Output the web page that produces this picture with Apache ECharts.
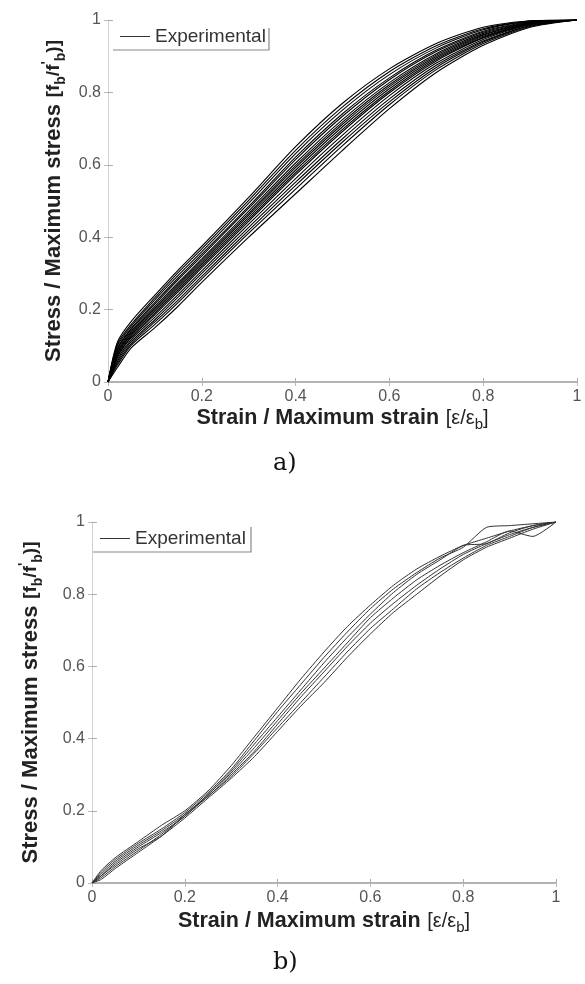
<!DOCTYPE html>
<html>
<head>
<meta charset="utf-8">
<script src="https://cdn.jsdelivr.net/npm/echarts@6/dist/echarts.min.js"></script>
<style>
html,body{margin:0;padding:0;background:#fff;}
#c{width:585px;height:984px;}
</style>
</head>
<body>
<div id="c"></div>
<script>
// ---------- Data: panel a) ----------
const strainA = [0, 0.02, 0.05, 0.1, 0.15, 0.2, 0.3, 0.4, 0.5, 0.6, 0.7, 0.8, 0.9, 1];
const stressA1  = [0, 0.11, 0.168, 0.24, 0.31, 0.375, 0.51, 0.65, 0.77, 0.865, 0.935, 0.98, 0.998, 1];
const stressA2  = [0, 0.105, 0.16, 0.233, 0.303, 0.368, 0.502, 0.64, 0.76, 0.857, 0.929, 0.976, 0.997, 1];
const stressA3  = [0, 0.10, 0.155, 0.227, 0.295, 0.36, 0.494, 0.631, 0.751, 0.849, 0.923, 0.973, 0.997, 1];
const stressA4  = [0, 0.094, 0.149, 0.22, 0.288, 0.353, 0.485, 0.621, 0.741, 0.84, 0.917, 0.969, 0.995, 1];
const stressA5  = [0, 0.091, 0.146, 0.215, 0.283, 0.348, 0.48, 0.614, 0.734, 0.835, 0.913, 0.966, 0.994, 1];
const stressA6  = [0, 0.086, 0.141, 0.209, 0.275, 0.34, 0.472, 0.605, 0.725, 0.827, 0.907, 0.963, 0.993, 1];
const stressA7  = [0, 0.082, 0.137, 0.204, 0.27, 0.335, 0.466, 0.598, 0.718, 0.821, 0.903, 0.96, 0.992, 1];
const stressA8  = [0, 0.079, 0.134, 0.20, 0.265, 0.33, 0.461, 0.592, 0.712, 0.816, 0.899, 0.958, 0.991, 1];
const stressA9  = [0, 0.075, 0.13, 0.195, 0.26, 0.325, 0.455, 0.585, 0.705, 0.81, 0.895, 0.955, 0.99, 1];
const stressA10 = [0, 0.071, 0.126, 0.19, 0.255, 0.32, 0.449, 0.578, 0.698, 0.804, 0.891, 0.952, 0.989, 1];
const stressA11 = [0, 0.068, 0.123, 0.186, 0.25, 0.315, 0.444, 0.572, 0.692, 0.799, 0.887, 0.95, 0.988, 1];
const stressA12 = [0, 0.063, 0.118, 0.179, 0.242, 0.307, 0.436, 0.562, 0.682, 0.791, 0.881, 0.946, 0.987, 1];
const stressA13 = [0, 0.057, 0.112, 0.172, 0.235, 0.30, 0.427, 0.552, 0.672, 0.782, 0.875, 0.942, 0.985, 1];
const stressA14 = [0, 0.052, 0.107, 0.166, 0.227, 0.292, 0.419, 0.543, 0.663, 0.774, 0.869, 0.939, 0.984, 1];
const stressA15 = [0, 0.047, 0.102, 0.159, 0.22, 0.285, 0.411, 0.533, 0.653, 0.766, 0.863, 0.935, 0.982, 1];
const stressA16 = [0, 0.04, 0.095, 0.15, 0.21, 0.275, 0.40, 0.52, 0.64, 0.755, 0.855, 0.93, 0.98, 1];

// ---------- Data: panel b) ----------
const strainB = [0, 0.02, 0.05, 0.1, 0.15, 0.2, 0.25, 0.3, 0.35, 0.4, 0.45, 0.5, 0.55, 0.6, 0.65, 0.7, 0.75, 0.8, 0.85, 0.9, 0.95, 1];
const stressB1 = [0, 0.035, 0.07, 0.115, 0.16, 0.2, 0.255, 0.325, 0.405, 0.485, 0.565, 0.64, 0.71, 0.77, 0.825, 0.87, 0.905, 0.935, 0.955, 0.975, 0.99, 1];
const stressB2 = [0, 0.03, 0.065, 0.11, 0.15, 0.195, 0.25, 0.315, 0.395, 0.475, 0.55, 0.625, 0.695, 0.76, 0.815, 0.86, 0.90, 0.93, 0.985, 0.99, 0.995, 1];
const stressB3 = [0, 0.025, 0.06, 0.105, 0.145, 0.19, 0.245, 0.31, 0.385, 0.46, 0.535, 0.61, 0.68, 0.745, 0.805, 0.855, 0.895, 0.935, 0.94, 0.97, 0.99, 1];
const stressB4 = [0, 0.02, 0.055, 0.10, 0.14, 0.185, 0.245, 0.305, 0.375, 0.45, 0.525, 0.595, 0.665, 0.735, 0.79, 0.84, 0.88, 0.915, 0.945, 0.975, 0.96, 1];
const stressB5 = [0, 0.02, 0.05, 0.095, 0.13, 0.19, 0.24, 0.30, 0.365, 0.44, 0.515, 0.585, 0.655, 0.72, 0.775, 0.825, 0.87, 0.91, 0.94, 0.965, 0.985, 1];
const stressB6 = [0, 0.015, 0.045, 0.09, 0.135, 0.185, 0.24, 0.295, 0.36, 0.43, 0.50, 0.57, 0.64, 0.705, 0.76, 0.815, 0.86, 0.90, 0.935, 0.96, 0.985, 1];
const stressB7 = [0, 0.01, 0.04, 0.085, 0.13, 0.18, 0.235, 0.29, 0.35, 0.42, 0.49, 0.555, 0.625, 0.69, 0.75, 0.80, 0.85, 0.895, 0.93, 0.955, 0.98, 1];

const tickLabels = ['0', '0.2', '0.4', '0.6', '0.8', '1'];
const legendName = 'Experimental';

const curvesA = [stressA1, stressA2, stressA3, stressA4, stressA5, stressA6, stressA7, stressA8,
                 stressA9, stressA10, stressA11, stressA12, stressA13, stressA14, stressA15, stressA16];
const curvesB = [stressB1, stressB2, stressB3, stressB4, stressB5, stressB6, stressB7];

const FONT = '"Liberation Sans", Arial, sans-serif';

function xName() {
  return {
    name: '{t|Strain / Maximum strain}  {n|[ε/ε}{s|b}{n|]}',
    nameLocation: 'middle',
    nameTextStyle: {
      rich: {
        t: { fontSize: 21.5, fontWeight: 'bold', color: '#222', fontFamily: FONT, lineHeight: 26, verticalAlign: 'middle' },
        n: { fontSize: 20, color: '#222', fontFamily: FONT, lineHeight: 26, verticalAlign: 'middle' },
        s: { fontSize: 15, color: '#222', fontFamily: FONT, lineHeight: 28, verticalAlign: 'bottom' }
      }
    }
  };
}
function yName() {
  return {
    name: '{t|Stress / Maximum stress}  {n|[f}{s|b}{n|/f}{p|\'}{s|b}{n|)]}',
    nameLocation: 'middle',
    nameRotate: 90,
    nameTextStyle: {
      rich: {
        t: { fontSize: 22, fontWeight: 'bold', color: '#222', fontFamily: FONT, lineHeight: 26, verticalAlign: 'middle' },
        n: { fontSize: 19, fontWeight: 'bold', color: '#222', fontFamily: FONT, lineHeight: 26, verticalAlign: 'middle' },
        s: { fontSize: 14, fontWeight: 'bold', color: '#222', fontFamily: FONT, lineHeight: 28, verticalAlign: 'bottom' },
        p: { fontSize: 14, fontWeight: 'bold', color: '#222', fontFamily: FONT, lineHeight: 26, verticalAlign: 'top' }
      }
    }
  };
}
const labelStyle = { fontSize: 16, color: '#555', fontFamily: FONT };
const fmt = v => tickLabels[Math.round(v * 5)];

function axesFor(gridIndex, nameGapX, nameGapY) {
  const xs = [
    Object.assign({
      type: 'value', gridIndex, min: 0, max: 1, interval: 0.2, nameGap: nameGapX,
      axisLine: { show: true, lineStyle: { color: '#9a9a9a', width: 1.5 } },
      axisTick: { show: true, inside: true, length: 4, lineStyle: { color: '#aaa' } },
      axisLabel: Object.assign({ margin: 7, formatter: fmt }, labelStyle),
      splitLine: { show: false }
    }, xName()),
    {
      type: 'value', gridIndex, position: 'top', min: 0, max: 1, interval: 0.2,
      axisLine: { show: false },
      axisTick: { show: true, inside: true, length: 4, lineStyle: { color: '#bbb' } },
      axisLabel: { show: false }, splitLine: { show: false }
    }
  ];
  const ys = [
    Object.assign({
      type: 'value', gridIndex, min: 0, max: 1, interval: 0.2, nameGap: nameGapY,
      axisLine: { show: false },
      axisTick: { show: true, inside: true, length: 5, lineStyle: { color: '#aaa' } },
      axisLabel: Object.assign({ margin: 7, formatter: fmt }, labelStyle),
      splitLine: { show: false }
    }, yName()),
    {
      type: 'value', gridIndex, position: 'right', min: 0, max: 1, interval: 0.2,
      axisLine: { show: true, lineStyle: { color: '#d0d0d0', width: 1 } },
      axisTick: { show: true, inside: true, length: 4, lineStyle: { color: '#bbb' } },
      axisLabel: { show: false }, splitLine: { show: false }
    }
  ];
  return { xs, ys };
}

const a0 = axesFor(0, 22, 40);
const a1 = axesFor(1, 24, 47);

const series = [];
curvesA.forEach(arr => {
  series.push({
    name: legendName, type: 'line', xAxisIndex: 0, yAxisIndex: 0,
    data: strainA.map((x, i) => [x, arr[i]]),
    showSymbol: false, symbol: 'none', smooth: 0.25,
    lineStyle: { color: '#000', width: 1.1 }, itemStyle: { color: '#000' },
    silent: true, animation: false
  });
});
curvesB.forEach(arr => {
  series.push({
    name: legendName, type: 'line', xAxisIndex: 2, yAxisIndex: 2,
    data: strainB.map((x, i) => [x, arr[i]]),
    showSymbol: false, symbol: 'none', smooth: 0.2,
    lineStyle: { color: '#333', width: 1 }, itemStyle: { color: '#333' },
    silent: true, animation: false
  });
});

const legendBase = {
  data: [{ name: legendName, icon: 'rect' }], selectedMode: false, itemWidth: 30, itemHeight: 1,
  orient: 'horizontal', itemStyle: { color: '#333' },
  textStyle: { fontSize: 19, color: '#333', fontFamily: FONT }, padding: 0
};

const option = {
  backgroundColor: '#fff',
  animation: false,
  grid: [
    { left: 108, top: 20, width: 469, height: 362, outerBoundsMode: 'none', containLabel: false },
    { left: 92, top: 522, width: 464, height: 361, outerBoundsMode: 'none', containLabel: false }
  ],
  xAxis: [a0.xs[0], a0.xs[1], a1.xs[0], a1.xs[1]],
  yAxis: [a0.ys[0], a0.ys[1], a1.ys[0], a1.ys[1]],
  legend: [
    Object.assign({ left: 120, top: 27 }, legendBase),
    Object.assign({ left: 100, top: 529 }, legendBase)
  ],
  graphic: [
    { type: 'polyline', shape: { points: [[113, 50], [269, 50], [269, 28]] }, style: { stroke: '#888', lineWidth: 1.2, fill: null } },
    { type: 'polyline', shape: { points: [[93, 552], [251, 552], [251, 527]] }, style: { stroke: '#888', lineWidth: 1.2, fill: null } },
    { type: 'text', left: 273, top: 452, style: { text: 'a)', fontSize: 24, fontFamily: '"DejaVu Serif", "Liberation Serif", serif', fill: '#111' } },
    { type: 'text', left: 273, top: 951, style: { text: 'b)', fontSize: 24, fontFamily: '"DejaVu Serif", "Liberation Serif", serif', fill: '#111' } }
  ],
  series
};

const chart = echarts.init(document.getElementById('c'), null, { renderer: 'canvas' });
chart.setOption(option);
</script>
</body>
</html>
